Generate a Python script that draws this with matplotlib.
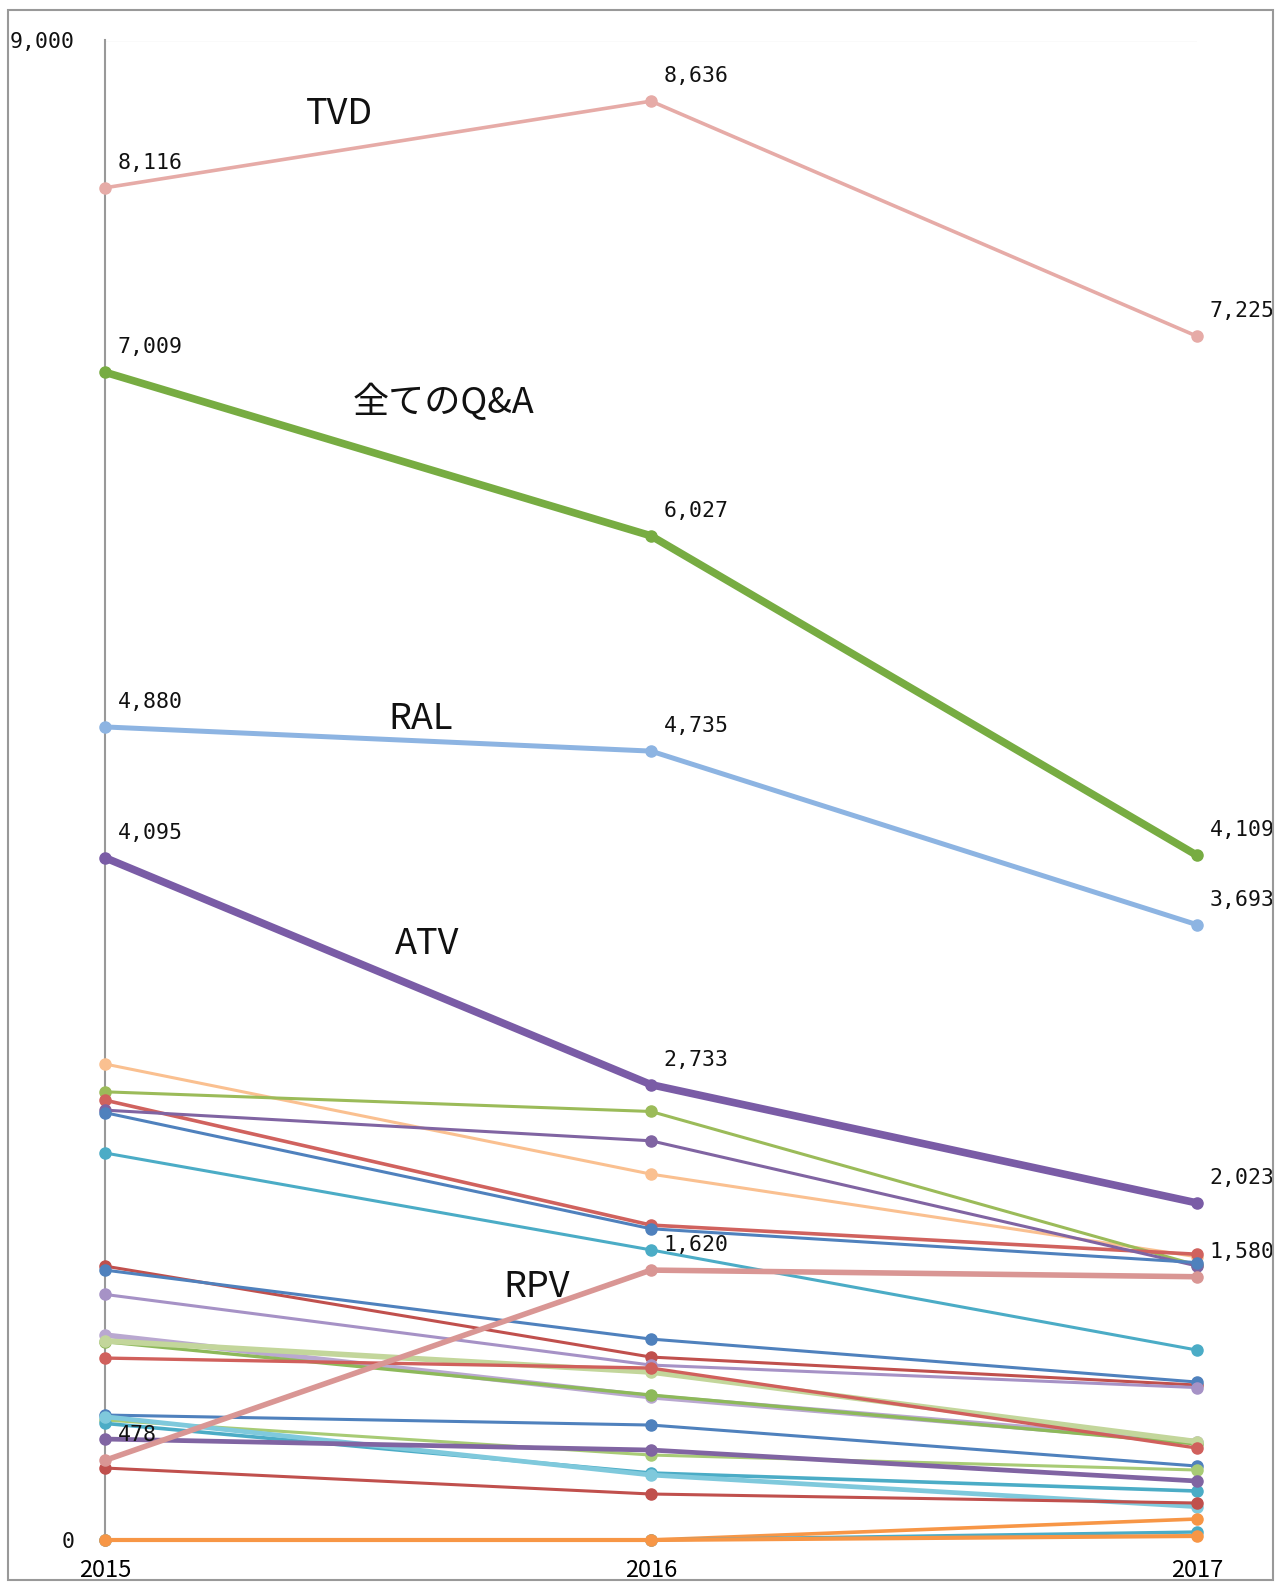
import matplotlib
matplotlib.use("Agg")
from matplotlib import pyplot as plt
from matplotlib.patches import Rectangle

plt.rcParams['font.family'] = ['Noto Sans CJK JP', 'DejaVu Sans']

years = [2015, 2016, 2017]

# highlighted series
tvd = [8116, 8636, 7225]
qa_all = [7009, 6027, 4109]
ral = [4880, 4735, 3693]
atv = [4095, 2733, 2023]
rpv = [478, 1620, 1580]

# the other (unlabelled) series
others = [
    [2857, 2196, 1700],
    [2690, 2572, 1650],
    [2640, 1890, 1715],
    [2580, 2396, 1645],
    [2565, 1868, 1665],
    [2323, 1741, 1140],
    [1644, 1098, 930],
    [1620, 1206, 948],
    [1474, 1050, 915],
    [1230, 860, 590],
    [1190, 870, 576],
    [1195, 1008, 590],
    [1092, 1032, 552],
    [750, 690, 444],
    [720, 510, 420],
    [700, 402, 294],
    [740, 390, 200],
    [606, 540, 354],
    [432, 276, 222],
    [0, 0, 126],
    [0, 0, 48],
    [0, 0, 24],
]

y_ticks = [0, 9000]
y_tick_labels = ["0", "9,000"]

# styles
other_colors = ['#FAC090', '#9BBB59', '#D0625E', '#8064A2', '#4F81BD', '#4BACC6',
                '#C0504D', '#4F81BD', '#A692C6', '#B9A8D0', '#8DB95A', '#C3D69B',
                '#D0605C', '#4F81BD', '#A8CB75', '#4BACC6', '#7FC9DC', '#8064A2',
                '#C0504D', '#F79646', '#4BACC6', '#F79646']
other_widths = [2.2, 2.2, 2.6, 2.2, 2.2, 2.2, 2.2, 2.2, 2.2, 4.0, 2.4, 4.0,
                2.4, 2.2, 2.2, 2.6, 3.4, 3.4, 2.2, 2.6, 2.4, 3.0]

num_font = ['DejaVu Sans Mono']

fig = plt.figure(figsize=(12.88, 15.84), dpi=100)
ax = fig.add_axes([105/1288, 44/1584, (1197-105)/1288, (1540-40.5)/1584])

for vals, c, w in zip(others, other_colors, other_widths):
    ax.plot(years, vals, color=c, lw=w, marker='o', ms=8, clip_on=False, zorder=3)

main = [
    (rpv, '#D99694', 4.0),
    (tvd, '#E6ABA7', 2.6),
    (ral, '#8DB4E2', 3.6),
    (qa_all, '#77AC42', 5.5),
    (atv, '#7A5CA6', 5.5),
]
for vals, c, w in main:
    ax.plot(years, vals, color=c, lw=w, marker='o', ms=8, clip_on=False, zorder=4)

# data labels
for vals in [tvd, qa_all, ral, atv, rpv]:
    for i in range(3):
        ax.annotate("{:,}".format(vals[i]), (years[i], vals[i]),
                    xytext=(9, 18), textcoords='offset points',
                    ha='left', va='center', fontsize=15.5, color='#111111',
                    family=num_font, annotation_clip=False, zorder=6)

# series names
names = [('TVD', 2015.43, 8560), ('全てのQ&A', 2015.62, 6830), ('RAL', 2015.578, 4925),
         ('ATV', 2015.590, 3580), ('RPV', 2015.79, 1520)]
for t, x, y in names:
    ax.text(x, y, t, fontsize=26, ha='center', va='center', color='#111111', zorder=6)

ax.set_xlim(2015, 2017)
ax.set_ylim(0, 9000)
ax.set_yticks(y_ticks)
ax.set_yticklabels(y_tick_labels, fontsize=15.5, family=num_font)
ax.set_xticks(years)
ax.set_xticklabels([str(y) for y in years], fontsize=17)
ax.tick_params(axis='y', length=0, pad=22)
ax.tick_params(axis='x', length=0, pad=14)
for lbl in ax.get_yticklabels():
    lbl.set_color('#111111')

ax.axhline(9000, color='#999999', lw=1.5, zorder=1)
for s in ['top', 'right', 'bottom']:
    ax.spines[s].set_visible(False)
ax.spines['left'].set_color('#999999')
ax.spines['left'].set_linewidth(1.5)

# frame around the whole picture
fig.patches.append(Rectangle((8/1288, 4/1584), (1273-8)/1288, (1574-4)/1584,
                             transform=fig.transFigure, fill=False,
                             edgecolor='#999999', lw=1.5))

fig.savefig('out.png', dpi=100)
